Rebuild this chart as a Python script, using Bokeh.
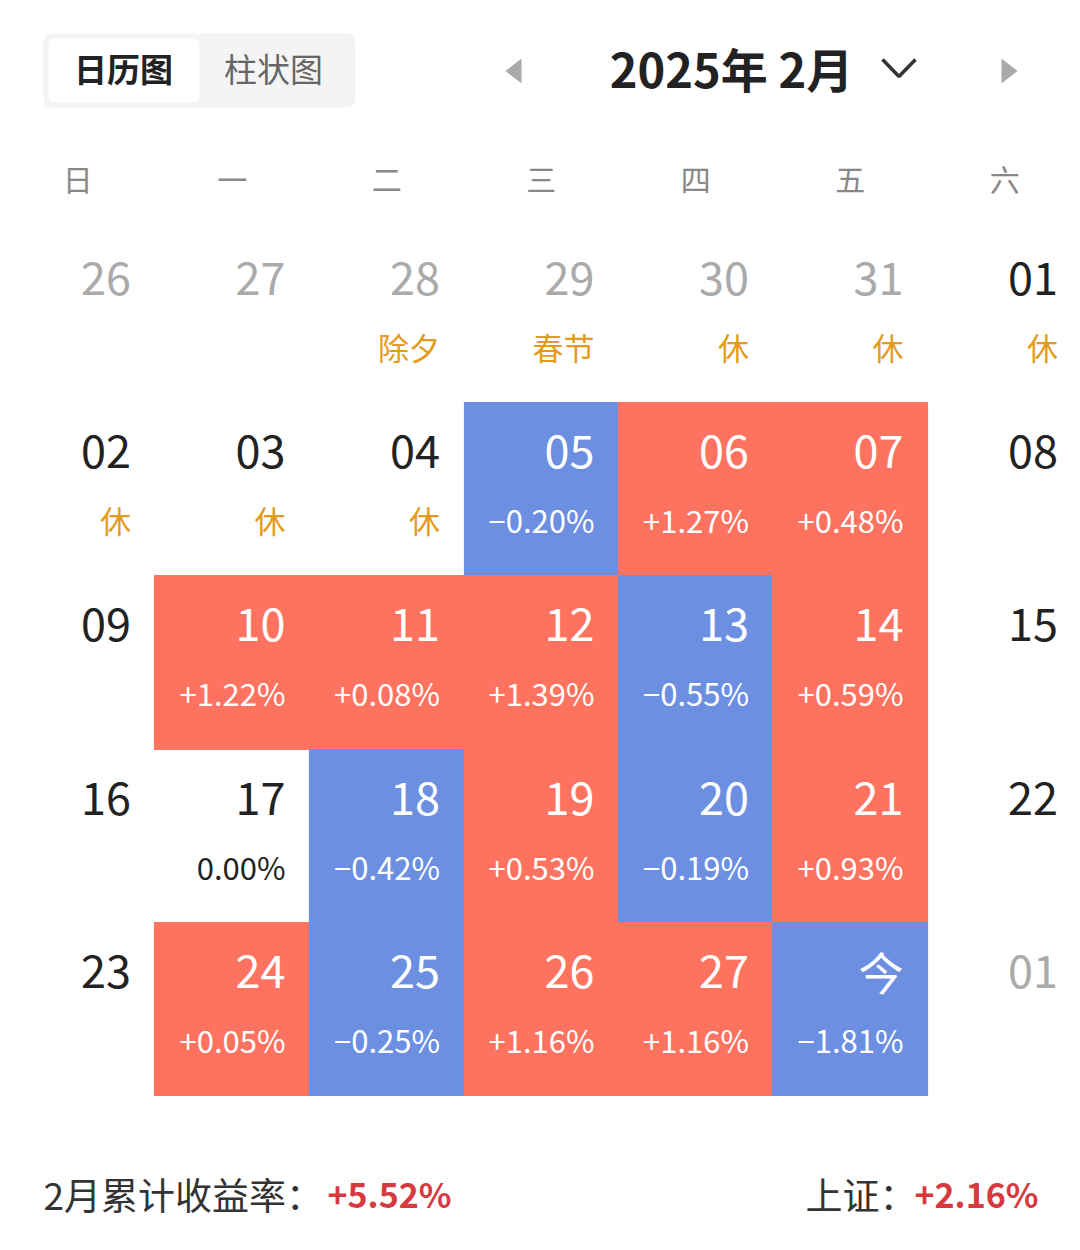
from bokeh.plotting import figure
from bokeh.models import ColumnDataSource, Range1d
from bokeh.core.properties import value
from bokeh.embed import file_html
from bokeh.resources import INLINE

# ---------------- data ----------------
title_text = "2025年 2月"
tabs = ["日历图", "柱状图"]
weekdays = ["日", "一", "二", "三", "四", "五", "六"]
day_labels = ["26", "27", "28", "29", "30", "31", "01",
              "02", "03", "04", "05", "06", "07", "08",
              "09", "10", "11", "12", "13", "14", "15",
              "16", "17", "18", "19", "20", "21", "22",
              "23", "24", "25", "26", "27", "今", "01"]
in_month = [False] * 6 + [True] * 28 + [False]
returns = [None, None, None, None, None, None, None,
           None, None, None, -0.20, 1.27, 0.48, None,
           None, 1.22, 0.08, 1.39, -0.55, 0.59, None,
           None, 0.00, -0.42, 0.53, -0.19, 0.93, None,
           None, 0.05, -0.25, 1.16, 1.16, -1.81, None]
notes = ["", "", "除夕", "春节", "休", "休", "休",
         "休", "休", "休", "", "", "", "",
         "", "", "", "", "", "", "",
         "", "", "", "", "", "", "",
         "", "", "", "", "", "", ""]
month_total_label = "2月累计收益率："
month_total = "+5.52%"
index_label = "上证："
index_total = "+2.16%"

# ---------------- style ----------------
W, H = 1080, 1250
CW = 1081.5 / 7
CH = 173.2
TOP0 = 229.0
UP = "#FE735F"
DOWN = "#6C8FE2"
FONT = "Noto Sans CJK SC"
DY = -3  # baseline correction for middle-aligned text

p = figure(width=W, height=H, output_backend="svg", toolbar_location=None,
           x_range=Range1d(0, W), y_range=Range1d(H, 0), min_border=0,
           outline_line_color=None, background_fill_color="white",
           border_fill_color="white")
p.axis.visible = False
p.grid.visible = False

# ---- toggle tabs ----
p.quad(left=[43], right=[355], top=[33], bottom=[107], fill_color="#F4F4F5",
       line_color=None, border_radius=8)
p.quad(left=[48], right=[199], top=[38], bottom=[102], fill_color="white",
       line_color=None, border_radius=6)
p.text(x=[123], y=[70 + DY], text=[tabs[0]], text_align="center", text_baseline="middle",
       text_font=value(FONT), text_font_size="33px", text_font_style="bold",
       text_color="#222222")
p.text(x=[273], y=[70 + DY], text=[tabs[1]], text_align="center", text_baseline="middle",
       text_font=value(FONT), text_font_size="33px", text_color="#666666")

# ---- title & arrows ----
p.text(x=[731], y=[70 + DY], text=[title_text], text_align="center", text_baseline="middle",
       text_font=value(FONT), text_font_size="47px", text_font_style="bold",
       text_color="#222222")
p.patch(x=[521, 521, 505], y=[58, 83, 70.5], fill_color="#AAAAAA", line_color=None)
p.patch(x=[1001, 1001, 1017], y=[58, 83, 70.5], fill_color="#AAAAAA", line_color=None)
p.line(x=[882, 898.5, 915], y=[59, 76, 59], line_color="#333333", line_width=3.5)

# ---- weekday header ----
p.text(x=[(i + 0.5) * CW for i in range(7)], y=[180 + DY] * 7, text=weekdays,
       text_align="center", text_baseline="middle", text_font=value(FONT),
       text_font_size="30px", text_color="#888888")

# ---- cells ----
cols = [i % 7 for i in range(len(day_labels))]
rows = [i // 7 for i in range(len(day_labels))]
xe = [round(c * CW) for c in range(8)]
ye = [round(TOP0 + r * CH) for r in range(6)]
lefts, rights, tops, bottoms, fills = [], [], [], [], []
for i, r in enumerate(returns):
    if r is not None and r != 0:
        lefts.append(xe[cols[i]])
        rights.append(xe[cols[i] + 1])
        tops.append(ye[rows[i]])
        bottoms.append(ye[rows[i] + 1])
        fills.append(UP if r > 0 else DOWN)
p.quad(left=lefts, right=rights, top=tops, bottom=bottoms, fill_color=fills,
       line_color=fills, line_width=1.2)

num_x, num_y, num_c = [], [], []
sub_x, sub_y, sub_t, sub_c = [], [], [], []
for i, lab in enumerate(day_labels):
    rx = (cols[i] + 1) * CW - 24
    ty = TOP0 + rows[i] * CH
    r = returns[i]
    colored = r is not None and r != 0
    num_x.append(rx)
    num_y.append(ty + 52 + DY)
    if colored:
        num_c.append("white")
    elif in_month[i]:
        num_c.append("#222222")
    else:
        num_c.append("#AAAAAA")
    if r is not None:
        sub_x.append(rx)
        sub_y.append(ty + 120 + DY)
        sub_t.append("0.00%" if r == 0 else ("+%.2f%%" % r if r > 0 else "\u2212%.2f%%" % abs(r)))
        sub_c.append("white" if colored else "#222222")

src_num = ColumnDataSource(dict(x=num_x, y=num_y, t=day_labels, c=num_c))
p.text(x="x", y="y", text="t", text_color="c", source=src_num, text_align="right",
       text_baseline="middle", text_font=value(FONT), text_font_size="45px")

src_sub = ColumnDataSource(dict(x=sub_x, y=sub_y, t=sub_t, c=sub_c))
p.text(x="x", y="y", text="t", text_color="c", source=src_sub, text_align="right",
       text_baseline="middle", text_font=value(FONT), text_font_size="31px")

note_x = [(cols[i] + 1) * CW - 24 for i, n in enumerate(notes) if n]
note_y = [TOP0 + rows[i] * CH + 120 + DY for i, n in enumerate(notes) if n]
note_t = [n for n in notes if n]
p.text(x=note_x, y=note_y, text=note_t, text_align="right", text_baseline="middle",
       text_font=value(FONT), text_font_size="31px", text_color="#E49B1C")

# ---- footer ----
p.text(x=[43], y=[1196 + DY], text=[month_total_label], text_align="left", text_baseline="middle",
       text_font=value(FONT), text_font_size="37px", text_color="#333333")
p.text(x=[327], y=[1196 + DY], text=[month_total], text_align="left", text_baseline="middle",
       text_font=value(FONT), text_font_size="34px", text_font_style="bold",
       text_color="#D63A3F")
p.text(x=[1038], y=[1196 + DY], text=[index_total], text_align="right", text_baseline="middle",
       text_font=value(FONT), text_font_size="34px", text_font_style="bold",
       text_color="#D63A3F")
p.text(x=[805], y=[1196 + DY], text=[index_label], text_align="left", text_baseline="middle",
       text_font=value(FONT), text_font_size="37px", text_color="#333333")

open("out.html", "w").write(file_html(p, INLINE))
